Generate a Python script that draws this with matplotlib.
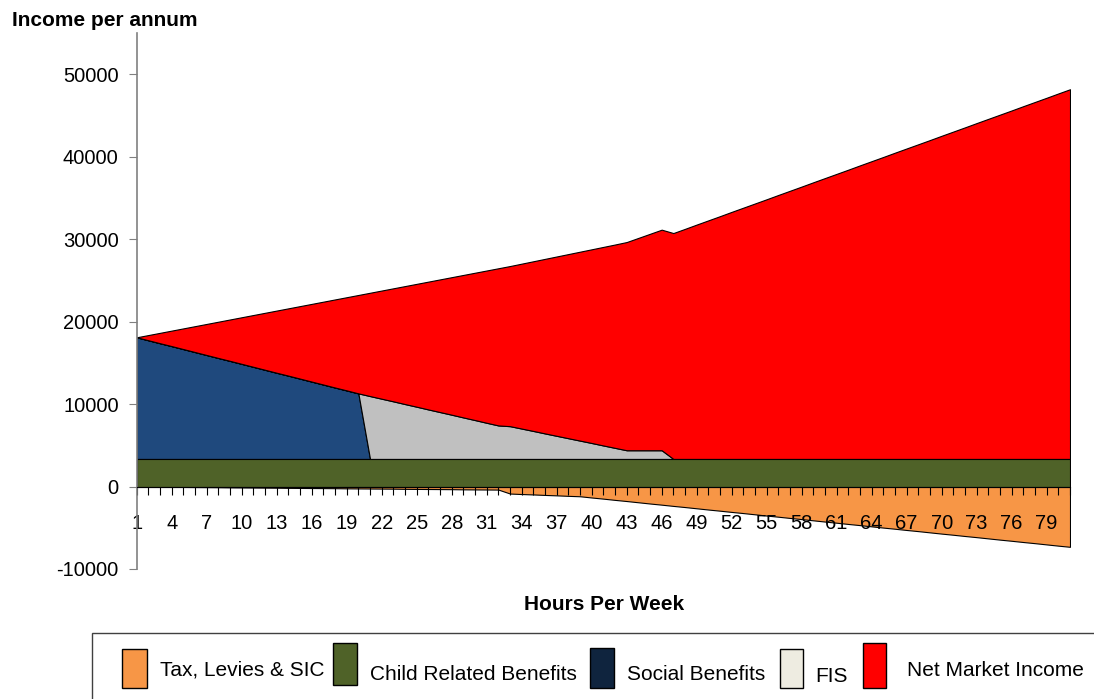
import matplotlib
matplotlib.use("Agg")
import matplotlib.pyplot as plt
from matplotlib.patches import Rectangle
import numpy as np

plt.rcParams['font.family'] = ['Liberation Sans', 'DejaVu Sans']
plt.rcParams['axes.unicode_minus'] = False

# hours per week, 1..81
hours = list(range(1, 82))

tax = [0, -10, -20, -40, -50, -60, -70, -80, -100, -110,
       -120, -130, -140, -160, -170, -180, -190, -200, -220, -230,
       -240, -250, -260, -280, -290, -300, -310, -320, -340, -350,
       -360, -370, -850, -910, -960, -1020, -1070, -1130, -1180, -1330,
       -1470, -1620, -1760, -1910, -2060, -2200, -2350, -2490, -2640, -2790,
       -2930, -3080, -3220, -3370, -3520, -3660, -3810, -3950, -4100, -4250,
       -4390, -4540, -4680, -4830, -4980, -5120, -5270, -5410, -5560, -5710,
       -5850, -6000, -6140, -6290, -6440, -6580, -6730, -6870, -7020, -7170,
       -7310]

child = [3350] * 81

social = [14750, 14390, 14030, 13680, 13320, 12960, 12600, 12240, 11890, 11530,
          11170, 10810, 10450, 10100, 9740, 9380, 9020, 8660, 8310, 7950] + [0] * 61

fis = [0] * 20 + [7620, 7300, 6980, 6650, 6330, 6000, 5680, 5360, 5030, 4710,
                  4380, 4060, 3970, 3680, 3390, 3090, 2800, 2510, 2220, 1930,
                  1630, 1340, 1050, 1050, 1050, 1050] + [0] * 35

net_market = [0, 630, 1260, 1880, 2510, 3140, 3770, 4400, 5020, 5650,
              6280, 6910, 7540, 8160, 8790, 9420, 10050, 10680, 11300, 11930,
              12530, 13120, 13710, 14310, 14900, 15500, 16090, 16680, 17280, 17870,
              18470, 19060, 19420, 20000, 20580, 21170, 21750, 22330, 22910, 23490,
              24080, 24660, 25250, 25750, 26250, 26750, 27390, 27900, 28420, 28930,
              29440, 29960, 30470, 30980, 31490, 32010, 32520, 33030, 33550, 34060,
              34570, 35080, 35600, 36110, 36620, 37140, 37650, 38160, 38670, 39190,
              39700, 40210, 40730, 41240, 41750, 42260, 42780, 43290, 43800, 44320,
              44830]

series_names = ["Tax, Levies & SIC", "Child Related Benefits", "Social Benefits",
                "FIS", "Net Market Income"]
area_colors = ["#F79646", "#4F6228", "#1F497D", "#C0C0C0", "#FF0000"]
legend_colors = ["#F79646", "#4F6228", "#0F243E", "#EEECE1", "#FF0000"]

W, H = 1094, 699
fig = plt.figure(figsize=(W / 100, H / 100), dpi=100)


def px(x, y):
    return x / W, 1 - y / H


ax = fig.add_axes([136.7 / W, 1 - 569 / H, (1070 - 136.7) / W, (569 - 33) / H])

x = np.array(hours)
ax.fill_between(x, 0, tax, facecolor=area_colors[0], edgecolor="black", linewidth=0.8)
base = np.zeros(len(x))
for vals, col in zip([child, social, fis, net_market], area_colors[1:]):
    top = base + np.array(vals)
    ax.fill_between(x, base, top, facecolor=col, edgecolor="black", linewidth=0.8)
    base = top

ax.set_xlim(1, 81)
ax.set_ylim(-10000, 55000)
ax.set_yticks(range(-10000, 50001, 10000))
ax.tick_params(axis="y", labelsize=14.5, length=6, direction="out", color="#808080", pad=7)

ax.set_xticks(hours)
ax.set_xticklabels([str(h) if (h - 1) % 3 == 0 else "" for h in hours])
ax.tick_params(axis="x", labelsize=14.5, length=6, direction="out", color="black", pad=14)

for s in ["top", "right"]:
    ax.spines[s].set_visible(False)
ax.spines["bottom"].set_position(("data", 0))
ax.spines["bottom"].set_color("black")
ax.spines["left"].set_color("#808080")
ax.spines["left"].set_linewidth(1.2)

fig.text(*px(12, 20), "Income per annum", fontsize=15, fontweight="bold", va="center", ha="left")
fig.text(*px(604, 605), "Hours Per Week", fontsize=15, fontweight="bold", va="center", ha="center")

# legend box drawn by hand to follow the original layout
fx, fy = px(92, 705)
fig.add_artist(Rectangle((fx, fy), (1110 - 92) / W, (705 - 633) / H, transform=fig.transFigure,
                         facecolor="white", edgecolor="#404040", linewidth=1, clip_on=False))
patch_boxes = [(122, 649, 147, 688), (333, 643, 357, 685), (590, 648, 614, 688),
               (780, 649, 803, 688), (863, 643, 886, 688)]
text_pos = [(160, 670), (370, 675), (627, 675), (815, 676), (907, 670)]
for name, col, (x0, y0, x1, y1), (tx, ty) in zip(series_names, legend_colors, patch_boxes, text_pos):
    bx, by = px(x0, y1)
    fig.add_artist(Rectangle((bx, by), (x1 - x0) / W, (y1 - y0) / H, transform=fig.transFigure,
                             facecolor=col, edgecolor="black", linewidth=1))
    fig.text(*px(tx, ty), name, fontsize=15, va="center", ha="left")

fig.savefig("out.png", dpi=100)
